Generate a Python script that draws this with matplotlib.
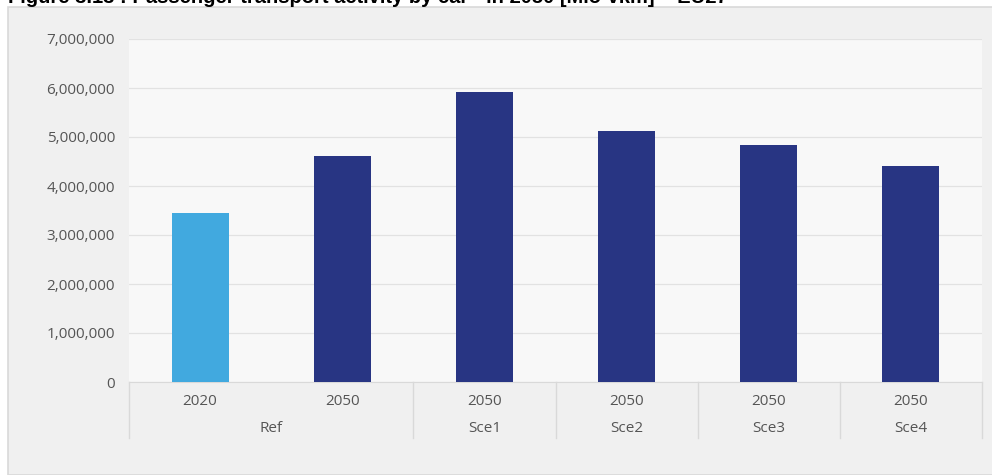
import matplotlib
matplotlib.use('Agg')
import matplotlib.pyplot as plt
from matplotlib.patches import Rectangle
from matplotlib.ticker import FuncFormatter

# data
scenarios = ['Ref', 'Sce1', 'Sce2', 'Sce3', 'Sce4']
years = ['2020', '2050', '2050', '2050', '2050', '2050']
groups = ['Ref', 'Ref', 'Sce1', 'Sce2', 'Sce3', 'Sce4']
values = [3450000, 4610000, 5910000, 5130000, 4840000, 4410000]
colors = ['#41a9df', '#283583', '#283583', '#283583', '#283583', '#283583']
title = 'Figure 3.13 : Passenger transport activity by car - in 2050 [Mio-vkm] \u2013 EU27'

plt.rcParams['font.family'] = ['Open Sans', 'DejaVu Sans']
txt = '#555555'

fig = plt.figure(figsize=(9.92, 4.75), dpi=100)
fig.patch.set_facecolor('white')

# outer grey panel
fig.patches.append(Rectangle((8/992, 0), 1.0, 1 - 7/475, transform=fig.transFigure,
                             facecolor='#f0f0f0', edgecolor='#d9d9d9', lw=1.2, zorder=-5))

ax = fig.add_axes([129/992, 1 - 382/475, 853/992, 343/475])
ax.set_facecolor('#f8f8f8')

x = list(range(len(values)))
ax.bar(x, values, width=0.4, color=colors, zorder=3)

ax.set_xlim(-0.5, len(values) - 0.5)
ax.set_ylim(0, 7000000)
ax.set_yticks(range(0, 7000001, 1000000))
ax.yaxis.set_major_formatter(FuncFormatter(lambda v, p: f'{int(v):,}'))
ax.tick_params(axis='y', length=0, pad=10, labelsize=11, labelcolor=txt)
ax.set_xticks([])
ax.grid(axis='y', color='#e2e2e2', lw=0.9, zorder=0)
for s in ['top', 'right', 'left']:
    ax.spines[s].set_visible(False)
ax.spines['bottom'].set_color('#d9d9d9')

# two-level category labels
trans = ax.get_xaxis_transform()
for i, y in enumerate(years):
    ax.text(i, -0.057, y, transform=trans, ha='center', va='center',
            fontsize=11, color=txt)
group_pos = {}
for i, g in enumerate(groups):
    group_pos.setdefault(g, []).append(i)
for g, idx in group_pos.items():
    ax.text(sum(idx) / len(idx), -0.135, g, transform=trans, ha='center',
            va='center', fontsize=11, color=txt)
seps = [-0.5] + [group_pos[g][-1] + 0.5 for g in scenarios]
for s in seps:
    ax.plot([s, s], [0, -0.163], transform=trans, color='#d9d9d9', lw=1,
            clip_on=False)

fig.text(8/992, 1 - 3/475, title, ha='left', va='baseline', fontsize=14.5,
         fontweight='bold', family=['Liberation Sans', 'DejaVu Sans'])

fig.savefig('out.png', dpi=100)
